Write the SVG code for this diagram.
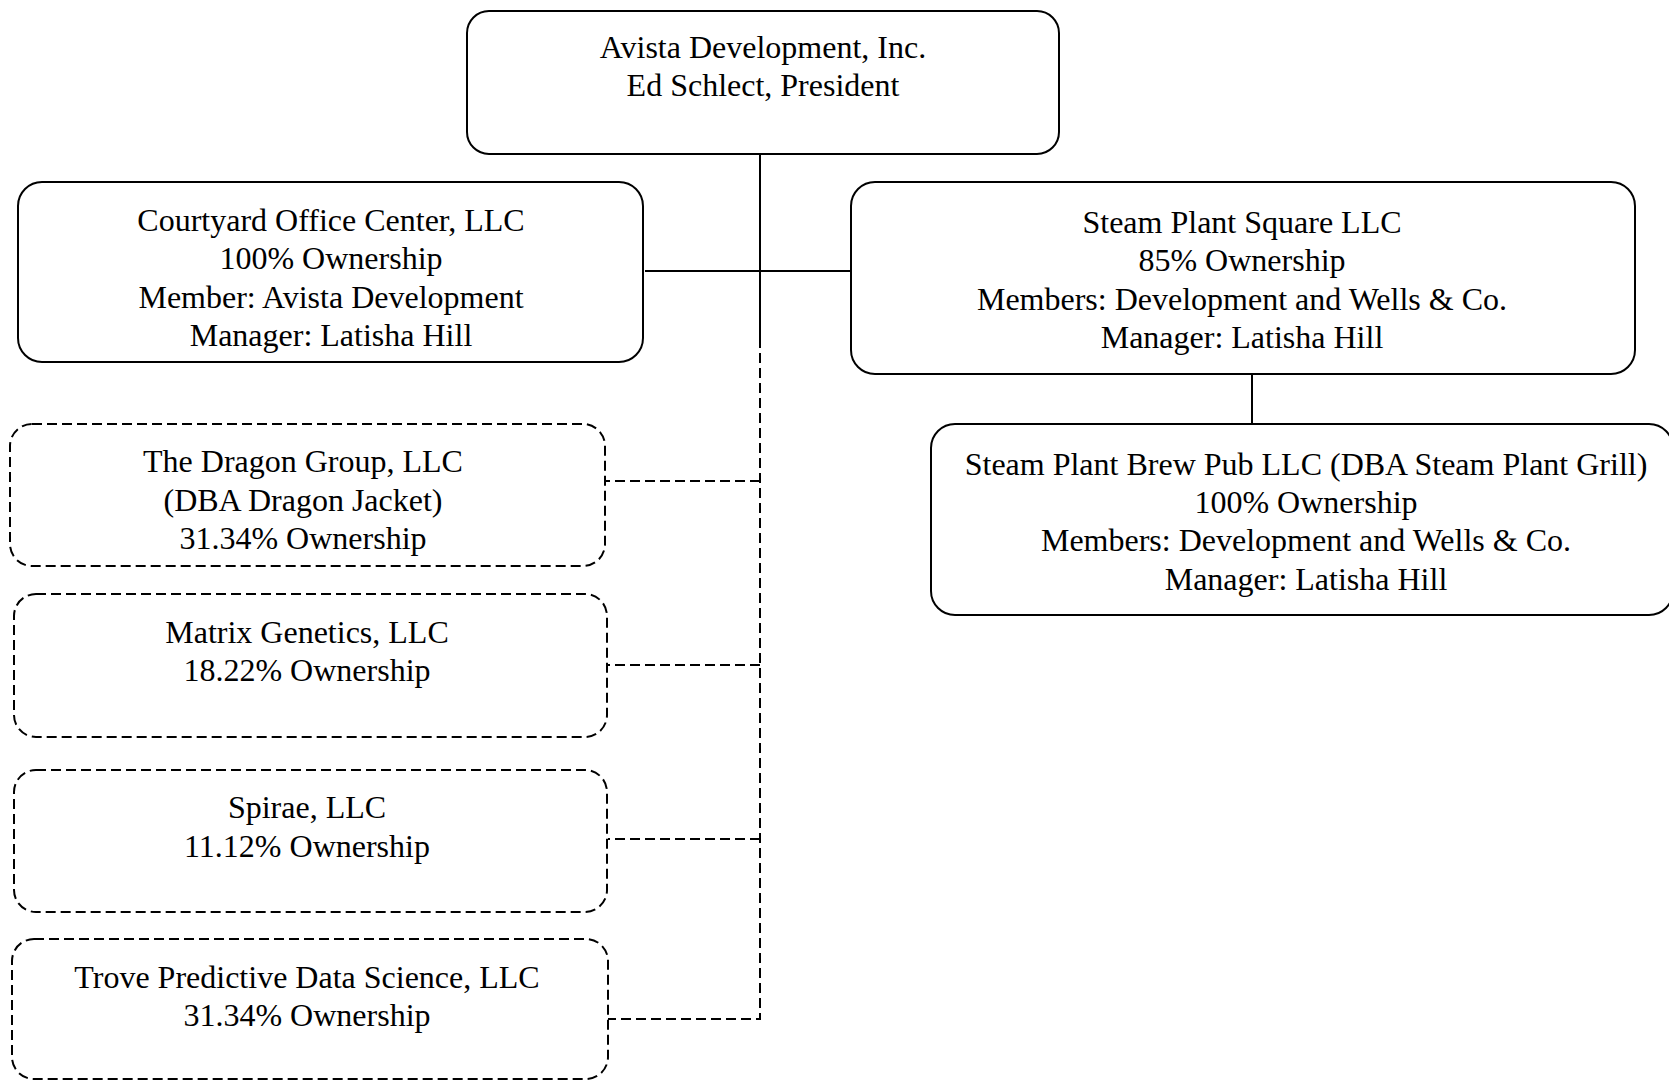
<svg xmlns="http://www.w3.org/2000/svg" width="1669" height="1080" viewBox="0 0 1669 1080">
<style>
.box{fill:#fff;stroke:#000;stroke-width:2}
.dbox{fill:#fff;stroke:#000;stroke-width:2;stroke-dasharray:10 5}
.ln{stroke:#000;stroke-width:2;fill:none}
.dl{stroke:#000;stroke-width:2;fill:none;stroke-dasharray:10 5}
text{font-family:"Liberation Serif","Times New Roman",serif;font-size:32px;fill:#000;text-anchor:middle}
</style>
<rect width="1669" height="1080" fill="#fff"/>
<g id="connectors">
<line class="ln" x1="760" y1="154" x2="760" y2="338"/>
<line class="ln" x1="645" y1="271" x2="852" y2="271"/>
<line class="ln" x1="1252" y1="374" x2="1252" y2="424"/>
<polyline class="dl" points="760,338 760,1019 608,1019"/>
<line class="dl" x1="760" y1="481" x2="606" y2="481"/>
<line class="dl" x1="760" y1="665" x2="608" y2="665"/>
<line class="dl" x1="760" y1="839" x2="608" y2="839"/>
</g>
<g id="avista">
<rect class="box" x="467" y="11" width="592" height="143" rx="22"/>
<text x="763" y="58">Avista Development, Inc.</text>
<text x="763" y="96">Ed Schlect, President</text>
</g>
<g id="courtyard">
<rect class="box" x="18" y="182" width="625" height="180" rx="24"/>
<text x="331" y="231">Courtyard Office Center, LLC</text>
<text x="331" y="269">100% Ownership</text>
<text x="331" y="308">Member: Avista Development</text>
<text x="331" y="346">Manager: Latisha Hill</text>
</g>
<g id="steamplantsquare">
<rect class="box" x="851" y="182" width="784" height="192" rx="24"/>
<text x="1242" y="233">Steam Plant Square LLC</text>
<text x="1242" y="271">85% Ownership</text>
<text x="1242" y="310">Members: Development and Wells &amp; Co.</text>
<text x="1242" y="348">Manager: Latisha Hill</text>
</g>
<g id="brewpub">
<rect class="box" x="931" y="424" width="742" height="191" rx="24"/>
<text x="1306" y="475">Steam Plant Brew Pub LLC (DBA Steam Plant Grill)</text>
<text x="1306" y="513">100% Ownership</text>
<text x="1306" y="551">Members: Development and Wells &amp; Co.</text>
<text x="1306" y="590">Manager: Latisha Hill</text>
</g>
<g id="dragon">
<rect class="dbox" x="10" y="424" width="595" height="142" rx="22"/>
<text x="303" y="472">The Dragon Group, LLC</text>
<text x="303" y="511">(DBA Dragon Jacket)</text>
<text x="303" y="549">31.34% Ownership</text>
</g>
<g id="matrix">
<rect class="dbox" x="14" y="594" width="593" height="143" rx="22"/>
<text x="307" y="643">Matrix Genetics, LLC</text>
<text x="307" y="681">18.22% Ownership</text>
</g>
<g id="spirae">
<rect class="dbox" x="14" y="770" width="593" height="142" rx="22"/>
<text x="307" y="818">Spirae, LLC</text>
<text x="307" y="857">11.12% Ownership</text>
</g>
<g id="trove">
<rect class="dbox" x="12" y="939" width="596" height="140" rx="22"/>
<text x="307" y="988">Trove Predictive Data Science, LLC</text>
<text x="307" y="1026">31.34% Ownership</text>
</g>
</svg>
